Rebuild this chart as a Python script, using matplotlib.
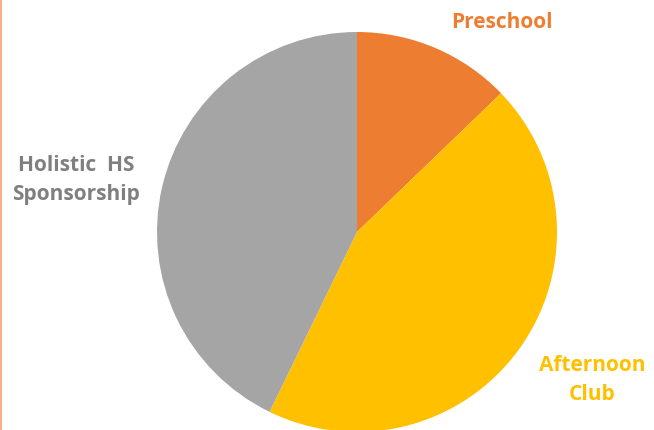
import matplotlib

matplotlib.use("Agg")
import matplotlib.pyplot as plt
from matplotlib.lines import Line2D

# slice order: clockwise from 12 o'clock
LABELS = ["Preschool", "Afternoon\nClub", "Holistic  HS\nSponsorship"]
VALUES = [12.8, 44.4, 42.8]
COLORS = ["#ED7D31", "#FFC000", "#A5A5A5"]
TEXT_COLORS = ["#ED7D31", "#FFC000", "#7F7F7F"]
# label anchor positions in pie units (radius = 1)
LABEL_POS = [(0.725, 1.05), (1.175, -0.74), (-1.405, 0.26)]

W, H = 654, 430
CX, CY, R = 357, 232, 200  # pie centre / radius in pixels

fig = plt.figure(figsize=(W / 100, H / 100), dpi=100)
ax = fig.add_axes([(CX - R) / W, (H - CY - R) / H, 2 * R / W, 2 * R / H])
ax.pie(VALUES, colors=COLORS, startangle=90, counterclock=False,
       radius=1.0, wedgeprops=dict(linewidth=0))
ax.set_xlim(-1, 1)
ax.set_ylim(-1, 1)
ax.set_aspect("equal")
ax.axis("off")

for lbl, (x, y), c in zip(LABELS, LABEL_POS, TEXT_COLORS):
    ax.text(x, y, lbl, ha="center", va="center", color=c, fontsize=15,
            fontweight="bold", family="Open Sans", linespacing=1.45,
            clip_on=False)

# thin orange border on the left edge
fig.add_artist(Line2D([0.002, 0.002], [0, 1], transform=fig.transFigure,
                      color="#F4B183", lw=1.5))

fig.savefig("out.png", dpi=100)
